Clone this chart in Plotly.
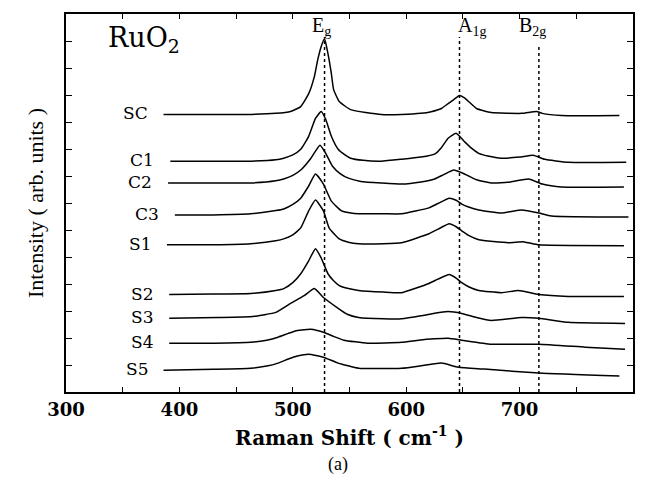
import plotly.graph_objects as go

# ---------------- data ----------------
SAMPLES = ["SC", "C1", "C2", "C3", "S1", "S2", "S3", "S4", "S5"]

SC_X = [386, 430, 463, 485, 498, 507, 514, 519, 522, 525, 528, 531, 534, 536, 541, 551, 578, 596, 613, 622, 631, 637, 642, 647, 651, 655, 662, 675, 702, 715, 720, 737, 788]
SC_Y = [10.28, 10.28, 10.28, 10.32, 10.39, 10.57, 11.05, 11.68, 12.31, 12.79, 13.08, 12.53, 11.79, 11.20, 10.76, 10.46, 10.28, 10.28, 10.32, 10.38, 10.50, 10.68, 10.83, 10.98, 10.90, 10.76, 10.50, 10.35, 10.32, 10.39, 10.32, 10.24, 10.24]

C1_X = [392, 430, 463, 485, 492, 500, 507, 514, 520, 525, 529, 534, 540, 546, 551, 562, 578, 596, 613, 625, 631, 637, 644, 651, 657, 664, 672, 684, 700, 712, 722, 743, 794]
C1_Y = [8.55, 8.55, 8.55, 8.60, 8.66, 8.78, 8.99, 9.47, 10.13, 10.39, 10.10, 9.47, 8.99, 8.78, 8.66, 8.58, 8.55, 8.62, 8.70, 8.81, 9.05, 9.40, 9.58, 9.29, 9.05, 8.84, 8.74, 8.66, 8.70, 8.77, 8.62, 8.51, 8.51]

C2_X = [390, 430, 463, 485, 492, 500, 507, 516, 524, 529, 535, 542, 549, 560, 578, 596, 613, 625, 633, 642, 649, 655, 662, 675, 692, 708, 720, 737, 792]
C2_Y = [7.74, 7.74, 7.74, 7.82, 7.89, 8.02, 8.22, 8.66, 9.14, 8.84, 8.36, 8.08, 7.92, 7.80, 7.74, 7.70, 7.78, 7.89, 8.05, 8.22, 8.12, 8.00, 7.86, 7.74, 7.78, 7.89, 7.70, 7.59, 7.59]

C3_X = [396, 430, 463, 485, 492, 500, 507, 514, 520, 527, 534, 543, 550, 558, 580, 596, 620, 628, 638, 644, 649, 655, 664, 684, 702, 717, 728, 796]
C3_Y = [6.56, 6.56, 6.60, 6.72, 6.78, 6.95, 7.18, 7.63, 8.07, 7.70, 7.07, 6.71, 6.64, 6.60, 6.60, 6.60, 6.82, 6.98, 7.18, 7.10, 6.96, 6.85, 6.74, 6.63, 6.74, 6.63, 6.52, 6.48]

S1_X = [389, 430, 463, 485, 492, 500, 507, 514, 520, 527, 532, 541, 549, 558, 580, 596, 620, 628, 638, 644, 649, 655, 664, 690, 704, 717, 792]
S1_Y = [5.45, 5.45, 5.49, 5.60, 5.67, 5.82, 6.08, 6.71, 7.11, 6.71, 6.08, 5.67, 5.55, 5.49, 5.49, 5.53, 5.86, 6.03, 6.23, 6.12, 5.97, 5.80, 5.64, 5.53, 5.56, 5.45, 5.42]

S2_X = [391, 430, 463, 485, 492, 500, 507, 514, 520, 525, 531, 536, 541, 549, 558, 580, 596, 620, 628, 638, 644, 649, 655, 664, 684, 699, 717, 743, 792]
S2_Y = [3.61, 3.63, 3.65, 3.76, 3.83, 4.05, 4.38, 4.86, 5.31, 4.97, 4.38, 4.12, 3.94, 3.83, 3.76, 3.70, 3.68, 4.02, 4.18, 4.35, 4.22, 4.05, 3.90, 3.76, 3.68, 3.76, 3.61, 3.54, 3.54]

S3_X = [391, 434, 465, 485, 498, 510, 519, 527, 540, 548, 558, 580, 596, 613, 625, 637, 649, 662, 675, 702, 717, 743, 793]
S3_Y = [2.73, 2.76, 2.80, 2.95, 3.28, 3.57, 3.83, 3.50, 3.10, 2.88, 2.76, 2.71, 2.71, 2.82, 2.92, 2.98, 2.91, 2.76, 2.65, 2.76, 2.73, 2.58, 2.54]

S4_X = [391, 430, 463, 477, 487, 496, 504, 516, 527, 536, 545, 566, 596, 611, 625, 637, 649, 675, 717, 758, 793]
S4_Y = [1.81, 1.81, 1.84, 1.92, 2.03, 2.17, 2.28, 2.32, 2.21, 2.06, 1.92, 1.81, 1.84, 1.92, 1.97, 1.99, 1.92, 1.77, 1.77, 1.66, 1.58]

S5_X = [386, 430, 463, 477, 487, 496, 504, 514, 527, 540, 558, 596, 616, 631, 646, 669, 717, 788]
S5_Y = [0.81, 0.84, 0.88, 0.96, 1.07, 1.22, 1.33, 1.40, 1.29, 1.07, 0.88, 0.88, 0.99, 1.07, 0.92, 0.85, 0.70, 0.59]

SERIES_X = [SC_X, C1_X, C2_X, C3_X, S1_X, S2_X, S3_X, S4_X, S5_X]
SERIES_Y = [SC_Y, C1_Y, C2_Y, C3_Y, S1_Y, S2_Y, S3_Y, S4_Y, S5_Y]

MODES = ["E<sub>g</sub>", "A<sub>1g</sub>", "B<sub>2g</sub>"]
MODE_POS = [528, 647, 717]

X_TICKS = [300, 400, 500, 600, 700, 800]
# ---------------------------------------------------------------

SERIF = "Liberation Serif, Times New Roman, serif"
WIDE = "DejaVu Serif, serif"

fig = go.Figure()

for name, xs, ys in zip(SAMPLES, SERIES_X, SERIES_Y):
    fig.add_trace(go.Scatter(x=xs, y=ys, mode="lines", name=name,
                             line=dict(color="black", width=1.5, shape="spline", smoothing=0.45),
                             hoverinfo="x+y+name", showlegend=False))
    fig.add_annotation(x=xs[0], y=ys[0], text=name, showarrow=False,
                       xanchor="right", yanchor="middle", xshift=-14, yshift=1,
                       font=dict(family=WIDE, size=17, color="black"))

tops = [13.15, 13.15, 12.8]
for pos, top in zip(MODE_POS, tops):
    fig.add_trace(go.Scatter(x=[pos, pos], y=[0, top], mode="lines",
                             line=dict(color="black", width=1.5, dash="dot"),
                             hoverinfo="skip", showlegend=False))

label_shift = [-3, 12, -6]
for lab, pos, xs in zip(MODES, MODE_POS, label_shift):
    fig.add_annotation(x=pos, y=13.55, text=lab, showarrow=False, xanchor="center",
                       yanchor="middle", xshift=xs,
                       font=dict(family=SERIF, size=20, color="black"))

fig.add_annotation(x=0.07, y=0.985, xref="paper", yref="paper", text="RuO<sub>2</sub>",
                   showarrow=False, xanchor="left", yanchor="top",
                   font=dict(family=WIDE, size=27, color="black"))

fig.add_annotation(x=0.48, y=-0.192, xref="paper", yref="paper", text="(a)",
                   showarrow=False, xanchor="center", yanchor="middle",
                   font=dict(family=SERIF, size=18, color="black"))

fig.update_xaxes(range=[300, 800], tickvals=X_TICKS, ticktext=[str(v) for v in X_TICKS],
                 ticks="inside", ticklen=5, tickwidth=1.2, tickcolor="black",
                 minor=dict(dtick=50, tick0=300, ticks="inside", ticklen=5, tickwidth=1.2, tickcolor="black"),
                 showline=True, linecolor="black", linewidth=1.8, mirror="ticks",
                 showgrid=False, zeroline=False,
                 tickfont=dict(family=WIDE, size=18, color="black", weight="bold"),
                 title=dict(text="Raman Shift ( cm<sup>-1</sup> )", standoff=12,
                            font=dict(family=WIDE, size=20, color="black", weight="bold")))
fig.update_yaxes(range=[0, 14], dtick=1, tick0=0, showticklabels=False,
                 ticks="inside", ticklen=6, tickwidth=1.2, tickcolor="black",
                 showline=True, linecolor="black", linewidth=1.8, mirror="ticks",
                 showgrid=False, zeroline=False,
                 title=dict(text="Intensity ( arb. units )", standoff=14,
                            font=dict(family=SERIF, size=22, color="black")))

fig.update_layout(width=648, height=480, margin=dict(l=66, r=15, t=12, b=88),
                  plot_bgcolor="white", paper_bgcolor="white")

fig.write_html("out.html")
